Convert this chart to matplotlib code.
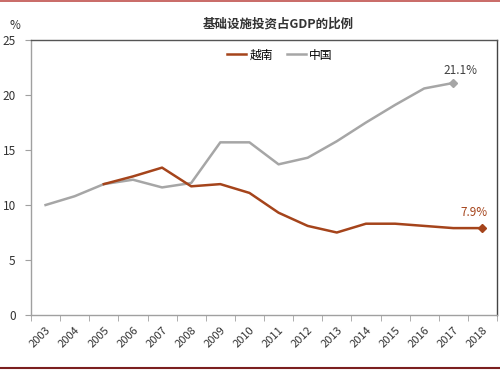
import matplotlib
matplotlib.use("Agg")
import matplotlib.pyplot as plt
from matplotlib.lines import Line2D

plt.rcParams['font.family'] = ['Noto Sans CJK SC', 'DejaVu Sans']

years = [str(y) for y in range(2003, 2019)]
china_years = list(range(2003, 2018))
china = [10.0, 10.8, 11.9, 12.3, 11.6, 12.0, 15.7, 15.7, 13.7, 14.3, 15.8, 17.5, 19.1, 20.6, 21.1]
vn_years = list(range(2005, 2019))
vietnam = [11.9, 12.6, 13.4, 11.7, 11.9, 11.1, 9.3, 8.1, 7.5, 8.3, 8.3, 8.1, 7.9, 7.9]

brown = '#A5441B'
gray = '#A6A6A6'

fig = plt.figure(figsize=(5.0, 3.71), dpi=100)
ax = fig.add_axes([0.062, 0.151, 0.932, 0.741])

xc = [y - 2003 for y in china_years]
xv = [y - 2003 for y in vn_years]
ax.plot(xc, china, color=gray, lw=1.8, label='中国', zorder=2)
ax.plot(xv, vietnam, color=brown, lw=1.8, label='越南', zorder=3)
ax.plot([xc[-1]], [china[-1]], marker='D', ms=4, color=gray, zorder=4)
ax.plot([xv[-1]], [vietnam[-1]], marker='D', ms=4, color=brown, zorder=4)

ax.annotate(f'{china[-1]:.1f}%', (xc[-1], china[-1]), xytext=(5, 9),
            textcoords='offset points', ha='center', va='center', fontsize=8.5, color='#404040')
ax.annotate(f'{vietnam[-1]:.1f}%', (xv[-1], vietnam[-1]), xytext=(-6, 11.5),
            textcoords='offset points', ha='center', va='center', fontsize=8.5, color=brown)

ax.set_xlim(-0.5, len(years) - 0.5)
ax.set_ylim(0, 25)
ax.set_yticks([0, 5, 10, 15, 20, 25])
ax.set_xticks(range(len(years)))
ax.set_xticklabels(years, rotation=45, ha='right', rotation_mode='anchor', fontsize=8, color='#333333')
ax.set_xticks([i - 0.5 for i in range(len(years) + 1)], minor=True)
ax.tick_params(axis='x', which='major', length=0, pad=7)
ax.tick_params(axis='x', which='minor', length=4, color='#A0A0A0', direction='out')
ax.tick_params(axis='y', length=4, color='#A0A0A0', labelsize=8.5, labelcolor='#333333', pad=7)

ax.spines['left'].set_color('#A0A0A0')
ax.spines['bottom'].set_color('#A0A0A0')
ax.spines['top'].set_color('#555555')
ax.spines['right'].set_color('#444444')
for s in ax.spines.values():
    s.set_linewidth(1.0)

handles = [Line2D([0], [0], color=brown, lw=1.8), Line2D([0], [0], color=gray, lw=1.8)]
ax.legend(handles, ['越南', '中国'], loc='upper center', bbox_to_anchor=(0.534, 0.995), ncol=2,
          frameon=False, fontsize=8.5, handlelength=1.6, handletextpad=0.3, columnspacing=1.2,
          borderaxespad=0.2)

fig.text(0.556, 0.935, '基础设施投资占GDP的比例', ha='center', va='center', fontsize=9,
         fontweight='bold', color='#333333')
fig.text(0.02, 0.93, '%', ha='left', va='center', fontsize=8.5, color='#333333')

fig.add_artist(Line2D([0, 1], [0.998, 0.998], color='#C0504D', lw=1.2, transform=fig.transFigure))
fig.add_artist(Line2D([0, 1], [0.007, 0.007], color='#7B1F1F', lw=1.5, transform=fig.transFigure))

fig.savefig('out.png', dpi=100)
